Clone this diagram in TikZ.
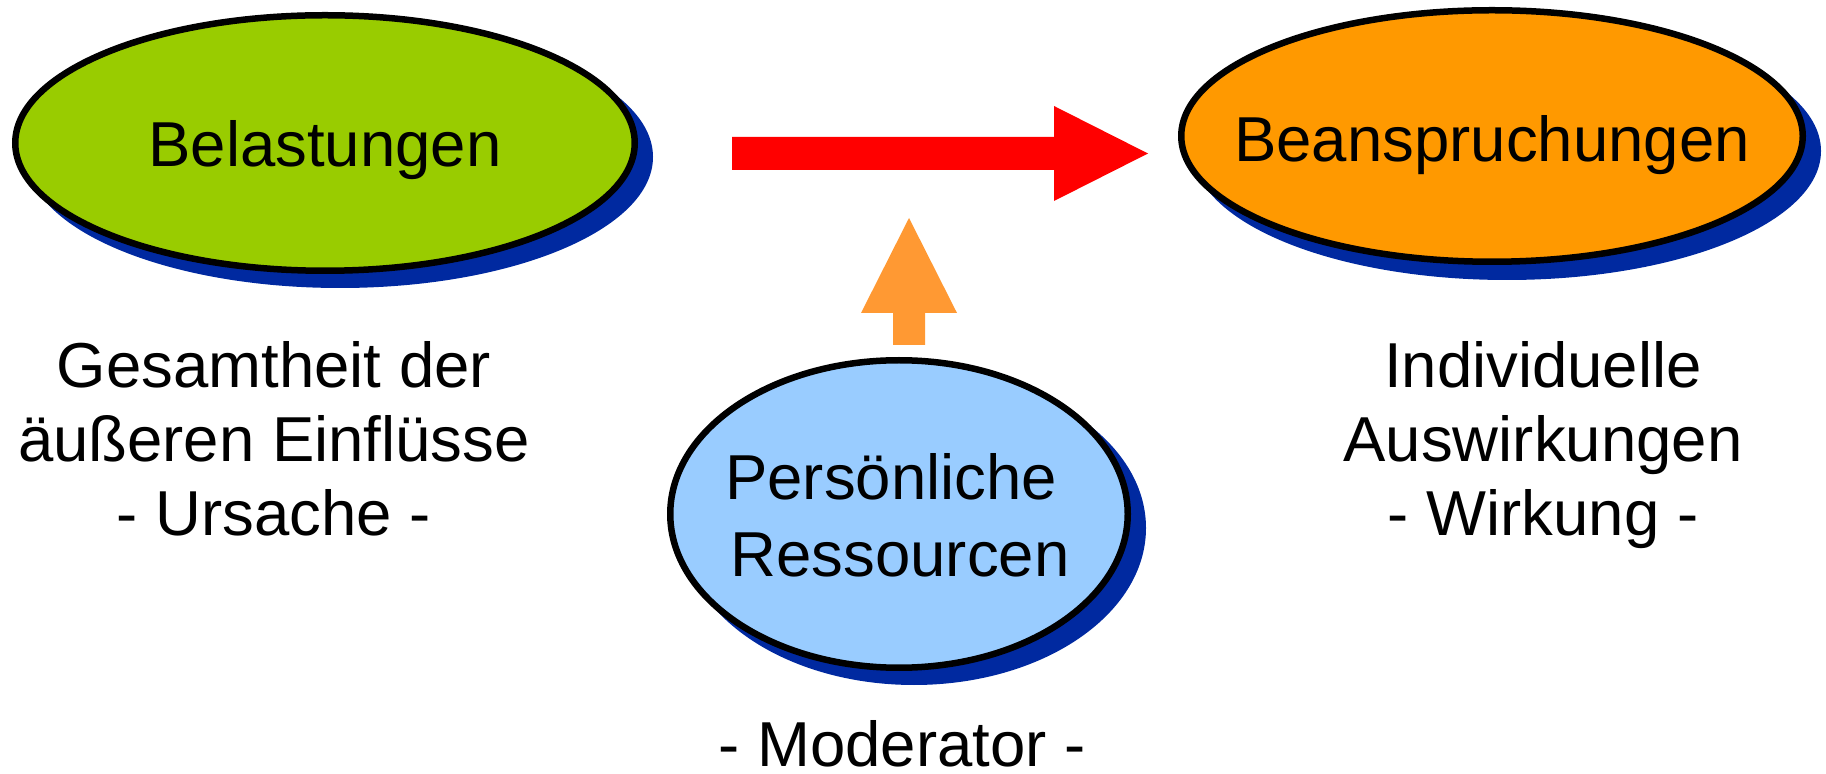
\documentclass[tikz,border=0pt]{standalone}
\usepackage{fontspec}
\setmainfont{Liberation Sans}
\usetikzlibrary{shapes.geometric}
\definecolor{lgreen}{HTML}{99CC00}
\definecolor{lorange}{HTML}{FF9900}
\definecolor{lblue}{HTML}{99CCFF}
\definecolor{shadowblue}{HTML}{0029A0}
\definecolor{arroworange}{HTML}{FF9933}
\definecolor{arrowred}{HTML}{FF0000}
\begin{document}
\begin{tikzpicture}[x=0.5pt,y=-0.5pt,
  oval/.style={ellipse, draw=black, line width=3.25pt, inner sep=0pt},
  ovalshadow/.style={ellipse, fill=shadowblue, inner sep=0pt},
  lbl/.style={font=\fontsize{31.75pt}{38.5pt}\selectfont, inner sep=0pt, align=center, anchor=base},
  sidelbl/.style={lbl, font=\fontsize{31.75pt}{37pt}\selectfont},
]
\useasboundingbox (0,0) rectangle (1826,774);
% shadows
\node[ovalshadow, minimum width=313pt, minimum height=131pt] (gs) at (340,157) {};
\node[ovalshadow, minimum width=314pt, minimum height=129pt] (os) at (1507,151) {};
\node[ovalshadow, minimum width=232pt, minimum height=157pt] (bs) at (914,528) {};
% ellipses
\node[oval, fill=lgreen, minimum width=309.75pt, minimum height=127.75pt] (bel) at (325,143) {};
\node[oval, fill=lorange, minimum width=310.75pt, minimum height=125.75pt] (bean) at (1492,136) {};
\node[oval, fill=lblue, minimum width=228.75pt, minimum height=153.75pt] (res) at (899,514) {};
% arrows
\fill[arrowred] (732,137) -- (1054,137) -- (1054,106) -- (1148,153.5) -- (1054,201) -- (1054,170) -- (732,170) -- cycle;
\fill[arroworange] (893,345) -- (893,313) -- (861,313) -- (909,218) -- (957,313) -- (925,313) -- (925,345) -- cycle;
% texts
\node[lbl] (tbel) at (325,166.5) {Belastungen};
\node[lbl] (tbean) at (1492,162) {Beanspruchungen};
\node[lbl] (tres) at (900,577) {Persönliche\hspace*{0.278em}\\Ressourcen};
\node[sidelbl] (tleft) at (274,536) {Gesamtheit der\\äußeren Einflüsse\\- Ursache -};
\node[sidelbl] (tright) at (1543,536) {Individuelle\\Auswirkungen\\- Wirkung -};
\node[lbl] (tmod) at (902,766) {- Moderator -};
\end{tikzpicture}
\end{document}
